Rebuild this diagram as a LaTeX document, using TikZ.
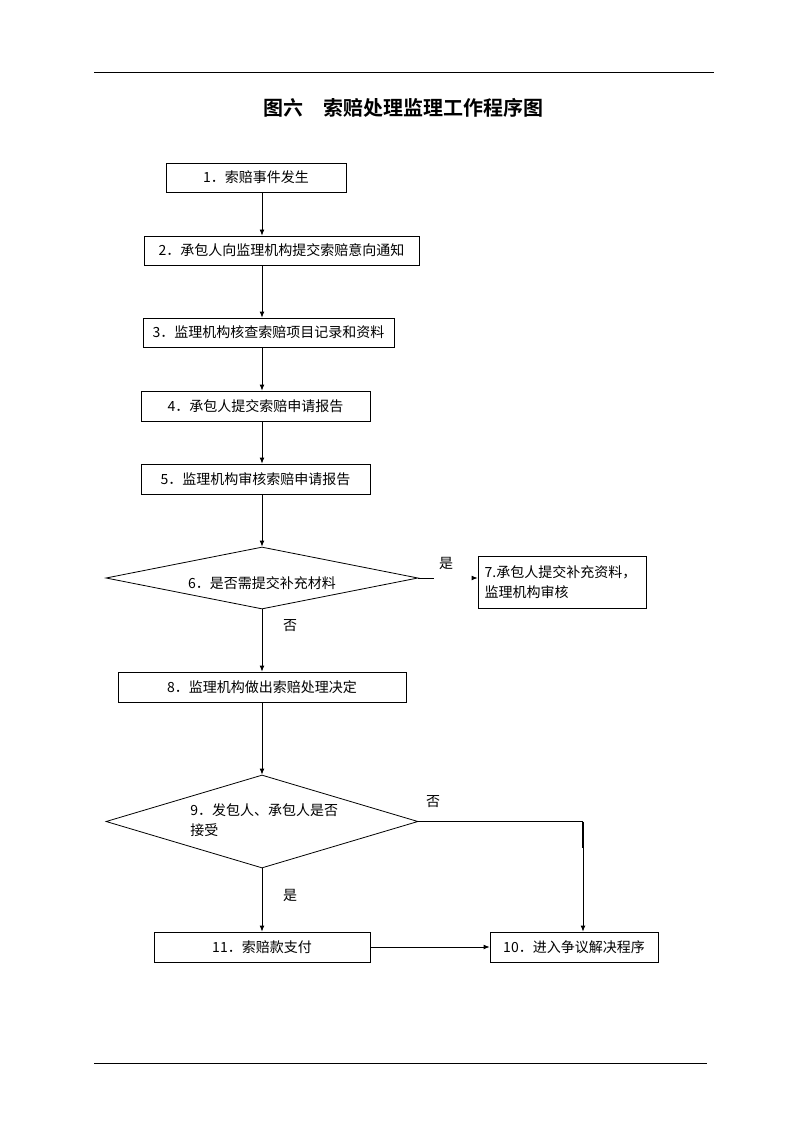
\documentclass[tikz,border=0pt]{standalone}
\usepackage{fontspec}
\setmainfont{Noto Sans CJK SC}[BoldFont={Noto Sans CJK SC Bold}]
\usetikzlibrary{arrows.meta,shapes.geometric}
\begin{document}
\begin{tikzpicture}[x=0.75pt,y=-0.75pt,
  every node/.style={font=\fontsize{10.5pt}{14pt}\selectfont},
  box/.style={draw,line width=0.6pt,inner sep=0pt,align=center},
  dec/.style={draw,diamond,line width=0.6pt,inner sep=0pt},
  lbl/.style={inner sep=0pt},
  arr/.style={line width=0.6pt,-{Latex[length=4.5pt,width=3.6pt]}},
  ln/.style={line width=0.6pt}]
\useasboundingbox (0,0) rectangle (794,1123);
% rules
\coordinate (r1a) at (94,72); \coordinate (r1b) at (714,72);
\coordinate (r2a) at (94,1063); \coordinate (r2b) at (707,1063);
\draw[line width=0.6pt] (r1a) -- (r1b);
\draw[line width=0.6pt] (r2a) -- (r2b);
% title
\node[lbl,font=\fontsize{15pt}{18pt}\selectfont\bfseries] (title) at (403.5,108) {图六　索赔处理监理工作程序图};
% boxes
\node[box,minimum width=135pt,minimum height=21.75pt] (b1) at (256,177.5) {1．索赔事件发生};
\node[box,minimum width=206.25pt,minimum height=21.75pt] (b2) at (281.5,250.5) {2．承包人向监理机构提交索赔意向通知};
\node[box,minimum width=188.25pt,minimum height=21.75pt] (b3) at (268.5,332.5) {3．监理机构核查索赔项目记录和资料};
\node[box,minimum width=171.75pt,minimum height=22.5pt] (b4) at (255.5,406) {4．承包人提交索赔申请报告};
\node[box,minimum width=171.75pt,minimum height=22.5pt] (b5) at (255.5,479) {5．监理机构审核索赔申请报告};
\node[dec,minimum width=234pt,minimum height=46.5pt] (d6) at (262,578) {};
\node[lbl] (t6) at (262,583) {6．是否需提交补充材料};
\node[box,minimum height=39pt,align=left,text width=116pt,inner xsep=5pt,font=\fontsize{10.5pt}{15.5pt}\selectfont] (b7) at (562,582) {7.承包人提交补充资料，\\监理机构审核};
\node[box,minimum width=216pt,minimum height=22.5pt] (b8) at (262,687) {8．监理机构做出索赔处理决定};
\node[dec,minimum width=234pt,minimum height=69.75pt] (d9) at (262,821.5) {};
\node[lbl,anchor=north west,align=left,font=\fontsize{10.5pt}{15pt}\selectfont] (t9) at (190,803) {9．发包人、承包人是否\\接受};
\node[box,minimum width=162pt,minimum height=22.5pt] (b11) at (262,947) {11．索赔款支付};
\node[box,minimum width=126pt,minimum height=22.5pt] (b10) at (574,947) {10．进入争议解决程序};
% labels
\node[lbl] (l6y) at (446,563) {是};
\node[lbl] (l6n) at (290,626) {否};
\node[lbl] (l9n) at (433,802) {否};
\node[lbl] (l9y) at (290,895) {是};
% connectors
\draw[arr] (b1.south -| d6) -- (b2.north -| d6);
\draw[arr] (b2.south -| d6) -- (b3.north -| d6);
\draw[arr] (b3.south -| d6) -- (b4.north -| d6);
\draw[arr] (b4.south -| d6) -- (b5.north -| d6);
\draw[arr] (b5.south -| d6) -- (d6.north);
\coordinate (c6a) at (434,578);
\coordinate (c6b) at (472,578);
\draw[ln] (d6.east) -- (c6a);
\draw[arr] (c6b) -- (c6b -| b7.west);
\draw[arr] (d6.south) -- (b8.north);
\draw[arr] (b8.south) -- (d9.north);
\draw[arr] (d9.south) -- (b11.north);
\coordinate (c9) at (583,821.5);
\coordinate (c9b) at (583,848);
\draw[ln] (d9.east) -- (c9);
\draw[line width=1.3pt] (c9) -- (c9b);
\draw[arr] (c9b) -- (c9 |- b10.north);
\draw[arr] (b11.east) -- (b10.west);
\end{tikzpicture}
\end{document}
